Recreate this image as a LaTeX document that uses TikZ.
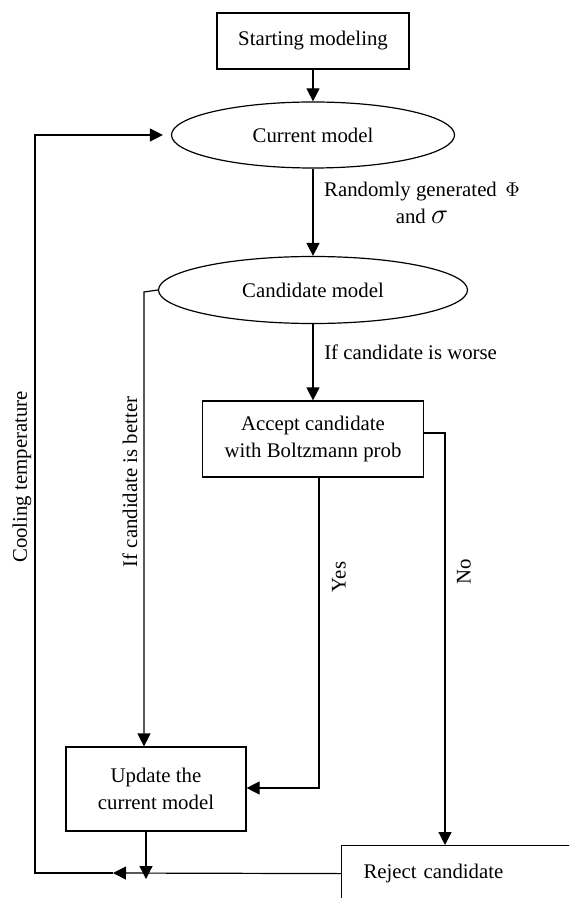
\documentclass[tikz,border=0pt]{standalone}
\usepackage{fontspec}
\setmainfont{Liberation Serif}
\usetikzlibrary{shapes.geometric,arrows.meta}

\begin{document}
\begin{tikzpicture}[x=0.5pt,y=-0.5pt,line width=0.6pt,
	font=\fontsize{10.4}{13.5}\selectfont,
	box/.style={draw,rectangle,align=center,inner sep=0pt},
	oval/.style={draw,ellipse,inner sep=0pt},
	arr/.style={-{Triangle[length=6.5pt,width=6.5pt]}},
	side/.style={rotate=90}]
			\useasboundingbox (0,0) rectangle (569,898);
			\clip (0,0) rectangle (569,898);
			\node[box,minimum width=96pt,minimum height=28pt] (start) at (313,41) {Starting modeling};
			\node[oval,minimum width=141.5pt,minimum height=33pt] (current) at (313,135) {Current model};
			\node[oval,minimum width=154.5pt,minimum height=33.5pt] (candidate) at (313,290) {Candidate model};
			\node[box,minimum width=110.5pt,minimum height=38pt] (accept) at (313,439) {Accept candidate\\with Boltzmann prob};
			\node[box,minimum width=90pt,minimum height=42pt] (update) at (156,789) {Update the\\current model};
			\node[box,anchor=north west,minimum height=28pt,text width=130pt,align=left,inner xsep=11pt] (reject) at (341,845) {Reject candidate};
			\coordinate (coolturn) at (35,873);
			\coordinate (coolmid) at (113,873);
			\coordinate (betterturn) at (144,292);
			\coordinate (noturn) at (445,433);
			\coordinate (yesturn) at (319,788);
			\coordinate (updatedown) at (146,879);
			\draw[arr] (start) -- (current);
			\draw[arr] (current) -- (candidate);
			\node[align=center] (randlabel) at (422,203) {Randomly generated $\,\Phi$\\and {\fontsize{13.5}{13.5}\selectfont$\sigma$}};
			\draw[arr] (candidate) -- (accept);
			\node[anchor=west] (worselabel) at (317,352) {If candidate is worse};
			\draw[arr] (candidate.west) -- (betterturn) -- (betterturn |- update.north);
			\node[side] (betterlabel) at (130,482) {If candidate is better};
			\draw[arr] (accept.east |- noturn) -- (noturn) -- (noturn |- reject.north);
			\node[side] (nolabel) at (464,572) {No};
			\draw[arr] (yesturn |- accept.south) -- (yesturn) -- (update.east |- yesturn);
			\node[side] (yeslabel) at (339,577) {Yes};
			\draw[arr] (update.south -| updatedown) -- (updatedown);
			\draw[arr] (reject.west) -- (coolmid);
			\draw[arr] (coolmid) -- (coolturn) -- (coolturn |- current.west) -- ([xshift=-4pt]current.west);
			\node[side] (coollabel) at (22,477) {Cooling temperature};
		\end{tikzpicture}
\end{document}
